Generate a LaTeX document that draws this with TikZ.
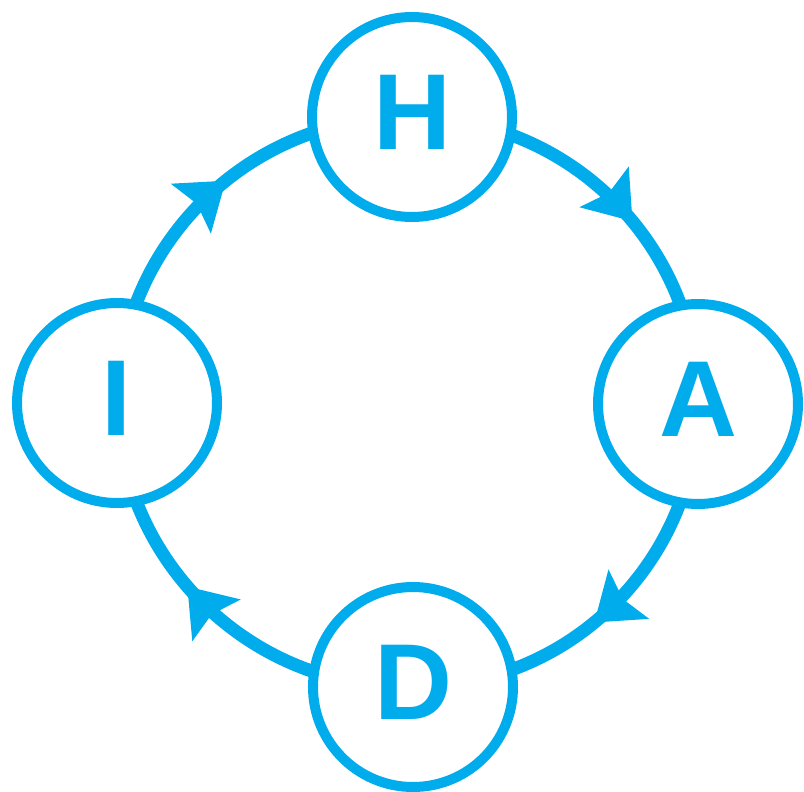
\documentclass[tikz,border=0pt]{standalone}
\usepackage{fontspec}
\setmainfont{Liberation Sans}
\usetikzlibrary{arrows.meta,decorations.markings,backgrounds}
\definecolor{cyanblue}{RGB}{0,172,236}
\tikzset{
  statenode/.style={circle, draw=cyanblue, line width=10pt, fill=white,
    minimum size=200pt, inner sep=0pt, text=cyanblue, text depth=10pt,
    font=\fontsize{108}{108}\selectfont\bfseries},
  ringarc/.style={draw=cyanblue, line width=13pt, bend left=45,
    postaction={decorate},
    decoration={markings, mark=at position 0.56 with
      {\arrow[cyanblue]{Stealth[length=44pt, width=62pt, inset=7pt]}}}}
}
\begin{document}
\begin{tikzpicture}[x=1pt, y=-1pt]
\useasboundingbox (0,0) rectangle (804,792);
\node[statenode] (H) at (412,117) {H};
\node[statenode] (A) at (698,404) {A};
\node[statenode] (D) at (413,687) {D};
\node[statenode] (I) at (117,403) {I};
\begin{scope}[on background layer]
\draw[ringarc] (I.center) to (H.center);
\draw[ringarc] (H.center) to (A.center);
\draw[ringarc] (A.center) to (D.center);
\draw[ringarc] (D.center) to (I.center);
\end{scope}
\end{tikzpicture}
\end{document}
